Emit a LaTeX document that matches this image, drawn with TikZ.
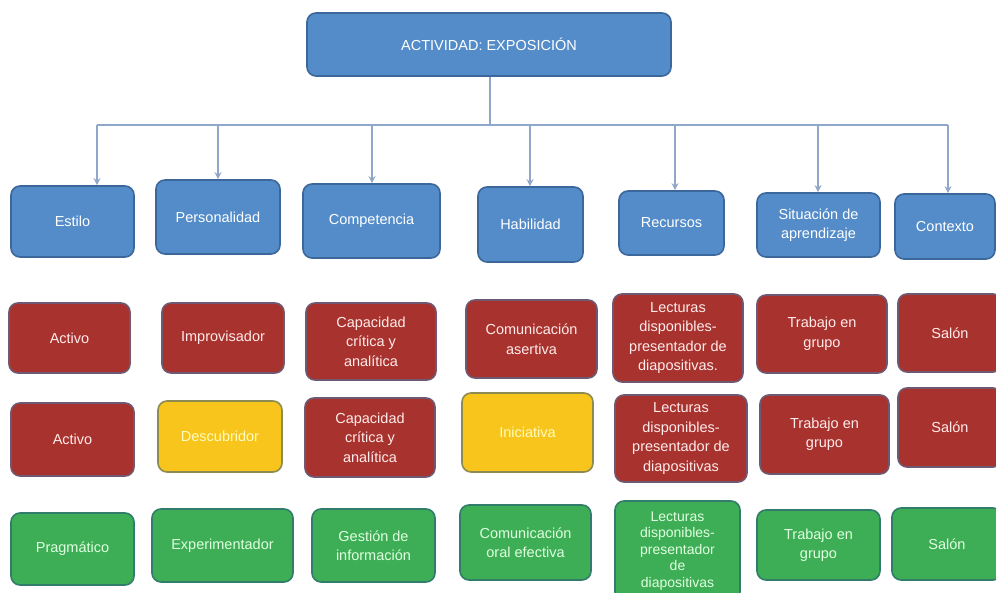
\documentclass[tikz,border=0pt]{standalone}
\usepackage{fontspec}
\setmainfont{Liberation Sans}
\usetikzlibrary{arrows.meta}
\definecolor{bfill}{HTML}{538CC8}
\definecolor{bdraw}{HTML}{3C679B}
\definecolor{rfill}{HTML}{A8332E}
\definecolor{rdraw}{HTML}{6E5872}
\definecolor{yfill}{HTML}{F7C51C}
\definecolor{ydraw}{HTML}{8E8B52}
\definecolor{gfill}{HTML}{3DAE55}
\definecolor{gdraw}{HTML}{317C6B}
\definecolor{conncol}{HTML}{8FA7C9}
\tikzset{
  box/.style={rounded corners=9pt, line width=1.6pt, align=center, inner sep=2pt,
    font=\fontsize{14.5}{19.5}\selectfont},
  bluebox/.style={box, fill=bfill, draw=bdraw, text=white},
  redbox/.style={box, fill=rfill, draw=rdraw, text=red!8},
  yelbox/.style={box, fill=yfill, draw=ydraw, text=yellow!25},
  grnbox/.style={box, fill=gfill, draw=gdraw, text=green!12},
  wh/.style 2 args={minimum width=#1pt, minimum height=#2pt},
  conn/.style={draw=conncol, line width=1.5pt},
  arr/.style={conn, -{Stealth[length=7pt,width=7pt]}}
}
\begin{document}
\begin{tikzpicture}[x=1pt,y=-1pt]
\useasboundingbox[fill=white] (0,0) rectangle (996,593);
% top
\node[bluebox, wh={364}{63}] (top) at (489,44.5) {ACTIVIDAD: EXPOSICIÓN};
% row 1
\node[bluebox, wh={123}{71}] (est) at (72.5,221.5) {Estilo};
\node[bluebox, wh={124}{74}] (per) at (218,217) {Personalidad};
\node[bluebox, wh={137}{74}] (com) at (371.5,221) {Competencia};
\node[bluebox, wh={105}{75}] (hab) at (530.5,224.5) {Habilidad};
\node[bluebox, wh={105}{64}] (rec) at (671.5,223) {Recursos};
\node[bluebox, wh={123}{64}] (sit) at (818.5,225) {Situación de\\aprendizaje};
\node[bluebox, wh={100}{65}] (con) at (945,226.5) {Contexto};
% row 2
\node[redbox, wh={121}{70}] (a1) at (69.5,338) {Activo};
\node[redbox, wh={122}{70}] (a2) at (223,338) {Improvisador};
\node[redbox, wh={130}{77}] (a3) at (371,341.5) {Capacidad\\crítica y\\analítica};
\node[redbox, wh={131}{78}] (a4) at (531.5,339) {Comunicación\\asertiva};
\node[redbox, wh={130}{88}] (a5) at (678,338) {Lecturas\\disponibles-\\presentador de\\diapositivas.};
\node[redbox, wh={130}{78}] (a6) at (822,334) {Trabajo en\\grupo};
\node[redbox, wh={104}{78}] (a7) at (950,333) {Salón};
% row 3
\node[redbox, wh={123}{73}] (b1) at (72.5,439.5) {Activo};
\node[yelbox, wh={124}{71}] (b2) at (220,436.5) {Descubridor};
\node[redbox, wh={130}{79}] (b3) at (370,437.5) {Capacidad\\crítica y\\analítica};
\node[yelbox, wh={131}{79}] (b4) at (527.5,432.5) {Iniciativa};
\node[redbox, wh={132}{87}] (b5) at (681,438.5) {Lecturas\\disponibles-\\presentador de\\diapositivas};
\node[redbox, wh={129}{79}] (b6) at (824.5,434.5) {Trabajo en\\grupo};
\node[redbox, wh={104}{79}] (b7) at (950,427.5) {Salón};
% row 4
\node[grnbox, wh={123}{72}] (c1) at (72.5,549) {Pragmático};
\node[grnbox, wh={141}{73}] (c2) at (222.5,545.5) {Experimentador};
\node[grnbox, wh={123}{73}] (c3) at (373.5,545.5) {Gestión de\\información};
\node[grnbox, wh={131}{75}] (c4) at (525.5,542.5) {Comunicación\\oral efectiva};
\node[grnbox, wh={125}{100}, font=\fontsize{14}{16.5}\selectfont] (c5) at (677.5,551) {Lecturas\\disponibles-\\presentador\\de\\diapositivas};
\node[grnbox, wh={123}{70}] (c6) at (818.5,545) {Trabajo en\\grupo};
\node[grnbox, wh={110}{72}] (c7) at (947,544) {Salón};
% connectors
\coordinate (bus) at (490,125);
\coordinate (d1) at (97,125);
\coordinate (d2) at (218,125);
\coordinate (d3) at (372,125);
\coordinate (d4) at (530,125);
\coordinate (d5) at (675,125);
\coordinate (d6) at (818,125);
\coordinate (d7) at (948,125);
\draw[conn] (top.south -| bus) -- (bus);
\draw[conn] (d1) -- (d7);
\draw[arr] (d1) -- (d1 |- est.north);
\draw[arr] (d2) -- (d2 |- per.north);
\draw[arr] (d3) -- (d3 |- com.north);
\draw[arr] (d4) -- (d4 |- hab.north);
\draw[arr] (d5) -- (d5 |- rec.north);
\draw[arr] (d6) -- (d6 |- sit.north);
\draw[arr] (d7) -- (d7 |- con.north);
\end{tikzpicture}
\end{document}
